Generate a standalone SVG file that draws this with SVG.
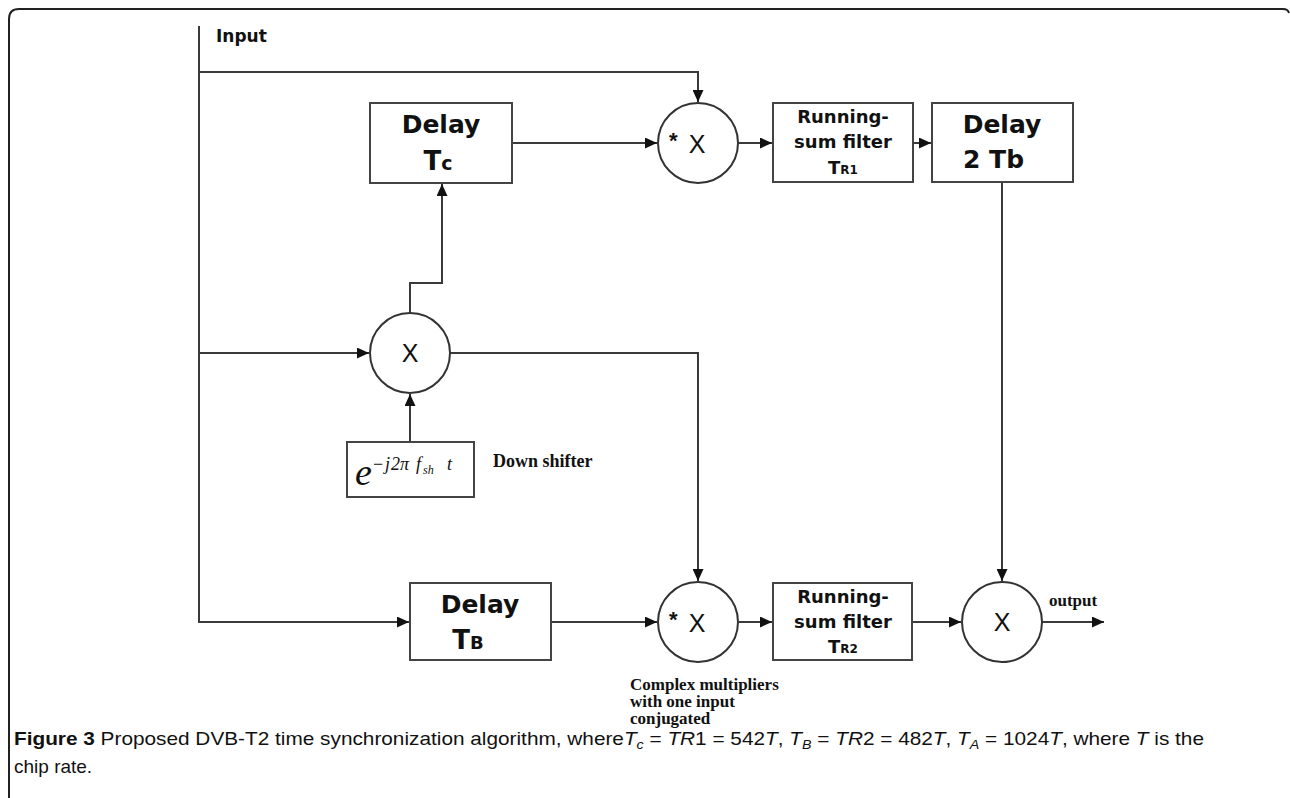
<svg xmlns="http://www.w3.org/2000/svg" width="1290" height="798" viewBox="0 0 1290 798">
<style>
.ln{fill:none;stroke:#3a3a3a;stroke-width:2}
.bx{fill:#fff;stroke:#444;stroke-width:2}
.ci{fill:#fff;stroke:#333;stroke-width:2}
.big{font-family:"DejaVu Sans",Verdana,sans-serif;font-weight:bold;fill:#111}
.rs{font-family:"DejaVu Sans",Verdana,sans-serif;font-weight:bold;font-size:18px;fill:#111;text-anchor:middle}
.xx{font-family:"Liberation Sans",Arial,sans-serif;font-size:25px;fill:#111;text-anchor:middle}
.st{font-family:"Liberation Sans",Arial,sans-serif;font-size:22px;font-weight:bold;fill:#111}
.sf{font-family:"Liberation Serif","Times New Roman",serif;font-weight:bold;fill:#111}
.cap{font-family:"Liberation Sans",Arial,sans-serif;font-size:19px;fill:#111}
</style>
<defs>
<marker id="ah" markerWidth="13" markerHeight="11" refX="12" refY="5.5" orient="auto" markerUnits="userSpaceOnUse">
<path d="M0,0 L12,5.5 L0,11 Z" fill="#111"/>
</marker>
</defs>
<rect width="1290" height="798" fill="#fff"/>
<path d="M9 798 V19 Q9 9 19 9 H1283 Q1288 9 1289 13" fill="none" stroke="#222" stroke-width="2"/>
<text x="216" y="42" class="big" font-size="17">Input</text>
<g id="connectors">
<path class="ln" d="M199 26 V622 H409" marker-end="url(#ah)"/>
<path class="ln" d="M199 72 H698 V102" marker-end="url(#ah)"/>
<path class="ln" d="M199 353 H369" marker-end="url(#ah)"/>
<path class="ln" d="M512 143 H657" marker-end="url(#ah)"/>
<path class="ln" d="M739 143 H772" marker-end="url(#ah)"/>
<path class="ln" d="M913 143 H931" marker-end="url(#ah)"/>
<path class="ln" d="M1002 182 V581" marker-end="url(#ah)"/>
<path class="ln" d="M410 313 V283 H442 V184" marker-end="url(#ah)"/>
<path class="ln" d="M410 442 V394" marker-end="url(#ah)"/>
<path class="ln" d="M450 353 H698 V581" marker-end="url(#ah)"/>
<path class="ln" d="M551 622 H657" marker-end="url(#ah)"/>
<path class="ln" d="M739 622 H772" marker-end="url(#ah)"/>
<path class="ln" d="M912 622 H961" marker-end="url(#ah)"/>
<path class="ln" d="M1042 622 H1104" marker-end="url(#ah)"/>
</g>
<g id="delayTc">
<rect class="bx" x="370" y="103" width="142" height="80"/>
<text x="441" y="133" class="big" font-size="25" text-anchor="middle">Delay</text>
<text x="438" y="170" class="big" font-size="26" text-anchor="middle">T<tspan font-size="19">c</tspan></text>
</g>
<g id="mulTop">
<circle class="ci" cx="698" cy="143" r="40"/>
<text x="669" y="148" class="st">*</text>
<text x="697" y="153" class="xx">X</text>
</g>
<g id="rsf1">
<rect class="bx" x="773" y="103" width="140" height="79"/>
<text x="843" y="123" class="rs">Running-</text>
<text x="843" y="148" class="rs">sum filter</text>
<text x="843" y="174" class="rs" font-size="17">T<tspan font-size="12">R1</tspan></text>
</g>
<g id="delay2Tb">
<rect class="bx" x="932" y="103" width="141" height="79"/>
<text x="1002" y="133" class="big" font-size="25" text-anchor="middle">Delay</text>
<text x="963" y="168" class="big" font-size="25">2 Tb</text>
</g>
<g id="mulMid">
<circle class="ci" cx="410" cy="353" r="40"/>
<text x="410" y="362" class="xx">X</text>
</g>
<g id="downShifter">
<rect class="bx" x="347" y="442" width="127" height="55"/>
<text font-family="'Liberation Serif','Times New Roman',serif" font-style="italic" fill="#111">
<tspan x="355" y="485" font-size="38">e</tspan>
<tspan x="373" y="470" font-size="18" font-style="normal">−</tspan>
<tspan x="385" y="470" font-size="18">j</tspan>
<tspan x="391" y="470" font-size="18">2</tspan>
<tspan x="400" y="470" font-size="18">π</tspan>
<tspan x="416" y="470" font-size="18">f</tspan>
<tspan x="423" y="474" font-size="12">sh</tspan>
<tspan x="447" y="470" font-size="18">t</tspan>
</text>
<text x="493" y="467" class="sf" font-size="18">Down shifter</text>
</g>
<g id="delayTB">
<rect class="bx" x="410" y="583" width="141" height="77"/>
<text x="480" y="613" class="big" font-size="25" text-anchor="middle">Delay</text>
<text x="468" y="649" class="big" font-size="26" text-anchor="middle">T<tspan font-size="18">B</tspan></text>
</g>
<g id="mulBot">
<circle class="ci" cx="698" cy="622" r="40"/>
<text x="669" y="627" class="st">*</text>
<text x="697" y="632" class="xx">X</text>
<text class="sf" font-size="17">
<tspan x="630" y="690">Complex multipliers</tspan>
<tspan x="630" y="707">with one input</tspan>
<tspan x="630" y="724">conjugated</tspan>
</text>
</g>
<g id="rsf2">
<rect class="bx" x="773" y="583" width="139" height="77"/>
<text x="843" y="603" class="rs">Running-</text>
<text x="843" y="628" class="rs">sum filter</text>
<text x="843" y="653" class="rs" font-size="17">T<tspan font-size="12">R2</tspan></text>
</g>
<g id="mulOut">
<circle class="ci" cx="1002" cy="622" r="40"/>
<text x="1002" y="631" class="xx">X</text>
<text x="1049" y="606" class="sf" font-size="17">output</text>
</g>
<g id="caption">
<text x="14" y="745" class="cap" textLength="1190" lengthAdjust="spacingAndGlyphs"><tspan font-weight="bold">Figure 3</tspan> Proposed DVB-T2 time synchronization algorithm, where<tspan font-style="italic">T</tspan><tspan font-style="italic" font-size="13" dy="4">c</tspan><tspan dy="-4"> = </tspan><tspan font-style="italic">TR</tspan>1 = 542<tspan font-style="italic">T</tspan>, <tspan font-style="italic">T</tspan><tspan font-style="italic" font-size="13" dy="4">B</tspan><tspan dy="-4"> = </tspan><tspan font-style="italic">TR</tspan>2 = 482<tspan font-style="italic">T</tspan>, <tspan font-style="italic">T</tspan><tspan font-style="italic" font-size="13" dy="4">A</tspan><tspan dy="-4"> = 1024</tspan><tspan font-style="italic">T</tspan>, where <tspan font-style="italic">T</tspan> is the</text>
<text x="14" y="773" class="cap">chip rate.</text>
</g>
</svg>
